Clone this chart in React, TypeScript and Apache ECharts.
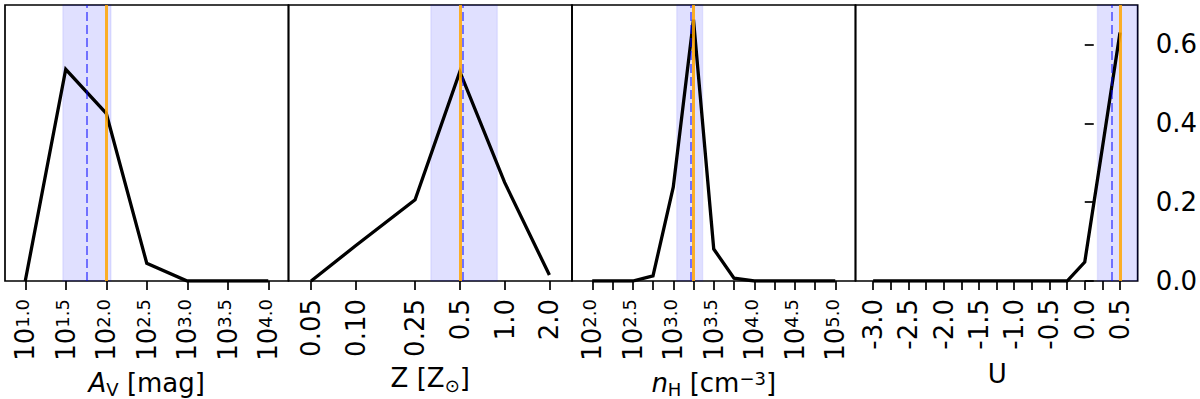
import React, { useEffect, useRef } from "react";
import * as echarts from "echarts";

const FONT = "DejaVu Sans";

// Panel 1: A_V (x is log10 A_V)
const avX = [1.0, 1.5, 2.0, 2.5, 3.0, 3.5, 4.0];
const avY = [0.0, 0.537, 0.425, 0.045, 0.0, 0.0, 0.0];
const avTicks = [1.0, 1.5, 2.0, 2.5, 3.0, 3.5, 4.0];
const avLabels = [1.0, 1.5, 2.0, 2.5, 3.0, 3.5, 4.0];
const avBand = [1.464, 2.059];
const avDashed = 1.764;
const avOrange = 2.0;

// Panel 2: Z (linear values, drawn on log10 scale)
const zX = [0.05, 0.1, 0.25, 0.5, 1.0, 2.0];
const zY = [0.0, 0.09, 0.206, 0.531, 0.25, 0.015];
const zTicks = [0.05, 0.1, 0.25, 0.5, 1.0, 2.0];
const zTickLabels = ["0.05", "0.10", "0.25", "0.5", "1.0", "2.0"];
const zBand = [0.319, 0.893];
const zDashed = 0.53;
const zOrange = 0.5;

// Panel 3: n_H (x is log10 n_H)
const nhX = [2.0, 2.25, 2.5, 2.75, 3.0, 3.25, 3.5, 3.75, 4.0, 4.25, 4.5, 4.75, 5.0];
const nhY = [0.0, 0.0, 0.0, 0.013, 0.238, 0.663, 0.081, 0.007, 0.0, 0.0, 0.0, 0.0, 0.0];
const nhTicks = [2.0, 2.25, 2.5, 2.75, 3.0, 3.25, 3.5, 3.75, 4.0, 4.25, 4.5, 4.75, 5.0];
const nhLabels = [2.0, 2.5, 3.0, 3.5, 4.0, 4.5, 5.0];
const nhBand = [3.043, 3.363];
const nhDashed = 3.212;
const nhOrange = 3.25;

// Panel 4: U
const uX = [-3.0, -2.75, -2.5, -2.25, -2.0, -1.75, -1.5, -1.25, -1.0, -0.75, -0.5, -0.25, 0.0, 0.25, 0.5];
const uY = [0, 0, 0, 0, 0, 0, 0, 0, 0, 0, 0, 0.0, 0.048, 0.338, 0.63];
const uTicks = [-3.0, -2.75, -2.5, -2.25, -2.0, -1.75, -1.5, -1.25, -1.0, -0.75, -0.5, -0.25, 0.0, 0.25, 0.5];
const uLabels = [-3.0, -2.5, -2.0, -1.5, -1.0, -0.5, 0.0, 0.5];
const uBand = [0.18, 0.75];
const uDashed = 0.375;
const uOrange = 0.5;

// shared y axis
const yTicks = [0.0, 0.2, 0.4, 0.6];
const yMax = 0.7;

const L = Math.log10;
const FS = 26;
const FE = 18;

export default function App() {
  const ref = useRef<HTMLDivElement>(null);
  useEffect(() => {
    const chart = echarts.init(ref.current!, null, { renderer: "svg" });
    const expFmt = (v: number) => `{b|10}{e|${v.toFixed(1)}}`;
    const rich = {
      b: { fontSize: FS, fontFamily: FONT, color: "#000", verticalAlign: "bottom", lineHeight: FS },
      e: { fontSize: FE, fontFamily: FONT, color: "#000", verticalAlign: "bottom", lineHeight: FE, padding: [0, 0, 7, 0] },
    };
    const panels = [
      {
        pts: avX.map((x, i) => [x, avY[i]]), min: 0.75, max: 4.25,
        ticks: avTicks, labels: avLabels, fmt: expFmt,
        band: avBand, dashed: avDashed, orange: avOrange,
      },
      {
        pts: zX.map((x, i) => [L(x), zY[i]]), min: -1.453, max: 0.453,
        ticks: zTicks.map(L), labels: zTicks.map(L),
        fmt: (v: number) => {
          let best = 0;
          zTicks.forEach((t, i) => { if (Math.abs(L(t) - v) < Math.abs(L(zTicks[best]) - v)) best = i; });
          return zTickLabels[best];
        },
        band: zBand.map(L), dashed: L(zDashed), orange: L(zOrange),
      },
      {
        pts: nhX.map((x, i) => [x, nhY[i]]), min: 1.75, max: 5.25,
        ticks: nhTicks, labels: nhLabels, fmt: expFmt,
        band: nhBand, dashed: nhDashed, orange: nhOrange,
      },
      {
        pts: uX.map((x, i) => [x, uY[i]]), min: -3.25, max: 0.75,
        ticks: uTicks, labels: uLabels, fmt: (v: number) => v.toFixed(1),
        band: uBand, dashed: uDashed, orange: uOrange,
      },
    ];
    const W = 283.5;
    const X0 = 5;
    const grids = panels.map((_, i) => ({
      left: X0 + i * W, width: W, top: 5, height: 276,
      show: true, borderColor: "#000", borderWidth: 1.7, backgroundColor: "transparent",
    }));
    const xAxes = panels.map((p, i) => ({
      type: "value", gridIndex: i, min: p.min, max: p.max,
      axisLine: { show: false }, splitLine: { show: false },
      axisTick: { show: true, customValues: p.ticks, length: 9, lineStyle: { color: "#000", width: 1.7 } },
      axisLabel: {
        show: true, customValues: p.labels, formatter: p.fmt, rotate: 90, margin: 18,
        fontSize: FS, fontFamily: FONT, color: "#000", rich,
      },
    }));
    const yAxes = panels.map((_, i) => ({
      type: "value", gridIndex: i, min: 0, max: yMax, position: "right",
      show: i === 3,
      axisLine: { show: false }, splitLine: { show: false },
      axisTick: { show: true, customValues: yTicks, length: 9, lineStyle: { color: "#000", width: 1.7 } },
      axisLabel: {
        show: true, customValues: yTicks, formatter: (v: number) => v.toFixed(1), margin: 18,
        fontSize: FS, fontFamily: FONT, color: "#000",
      },
    }));
    const series: any[] = [];
    panels.forEach((p, i) => {
      series.push({
        type: "line", xAxisIndex: i, yAxisIndex: i, data: [], z: 1, silent: true,
        markArea: {
          silent: true,
          itemStyle: { color: "rgba(0,0,255,0.12)", borderColor: "rgba(0,0,255,0.07)", borderWidth: 1.5 },
          data: [[{ xAxis: p.band[0] }, { xAxis: p.band[1] }]],
        },
      });
      series.push({
        type: "line", xAxisIndex: i, yAxisIndex: i, data: p.pts, z: 3,
        showSymbol: false, symbol: "none", silent: true,
        lineStyle: { color: "#000", width: 3.3, join: "miter" },
      });
      series.push({
        type: "line", xAxisIndex: i, yAxisIndex: i, data: [], z: 4, silent: true,
        markLine: {
          silent: true, symbol: ["none", "none"], label: { show: false },
          data: [
            { xAxis: p.dashed, lineStyle: { color: "rgba(0,0,255,0.5)", width: 2, type: [9, 4] } },
            { xAxis: p.orange, lineStyle: { color: "rgba(255,165,0,0.85)", width: 3, type: "solid" } },
          ],
        },
      });
    });
    const f = (size: number, italic = false) => `${italic ? "italic " : ""}${size}px '${FONT}'`;
    const tok = {
      n: { font: f(FS), fill: "#000", verticalAlign: "top", lineHeight: FS },
      i: { font: f(FS, true), fill: "#000", verticalAlign: "top", lineHeight: FS },
      s: { font: f(FE), fill: "#000", verticalAlign: "bottom", lineHeight: FE + 11, padding: [11, 0, 0, 0] },
      p: { font: f(FE), fill: "#000", verticalAlign: "top", lineHeight: FE },
    };
    const names = [
      { text: "{i|A}{s|V}{n| [mag]}", y: 384 },
      { text: "{n|Z [Z}{s|⊙}{n|]}", y: 379.5 },
      { text: "{i|n}{s|H}{n| [cm}{p|−3}{n|]}", y: 384 },
      { text: "{n|U}", y: 373.5 },
    ];
    const graphic = names.map((nm, i) => ({
      type: "text",
      style: {
        x: X0 + i * W + W / 2, y: nm.y, text: nm.text, align: "center", verticalAlign: "middle",
        font: f(FS), fill: "#000", rich: tok,
      },
    }));
    chart.setOption({
      animation: false,
      backgroundColor: "#fff",
      grid: grids,
      xAxis: xAxes,
      yAxis: yAxes,
      series,
      graphic,
    });
    return () => chart.dispose();
  }, []);
  return (
    <div
      ref={ref}
      style={{ position: "fixed", left: 0, top: 0, width: 1200, height: 399, background: "#fff" }}
    />
  );
}
